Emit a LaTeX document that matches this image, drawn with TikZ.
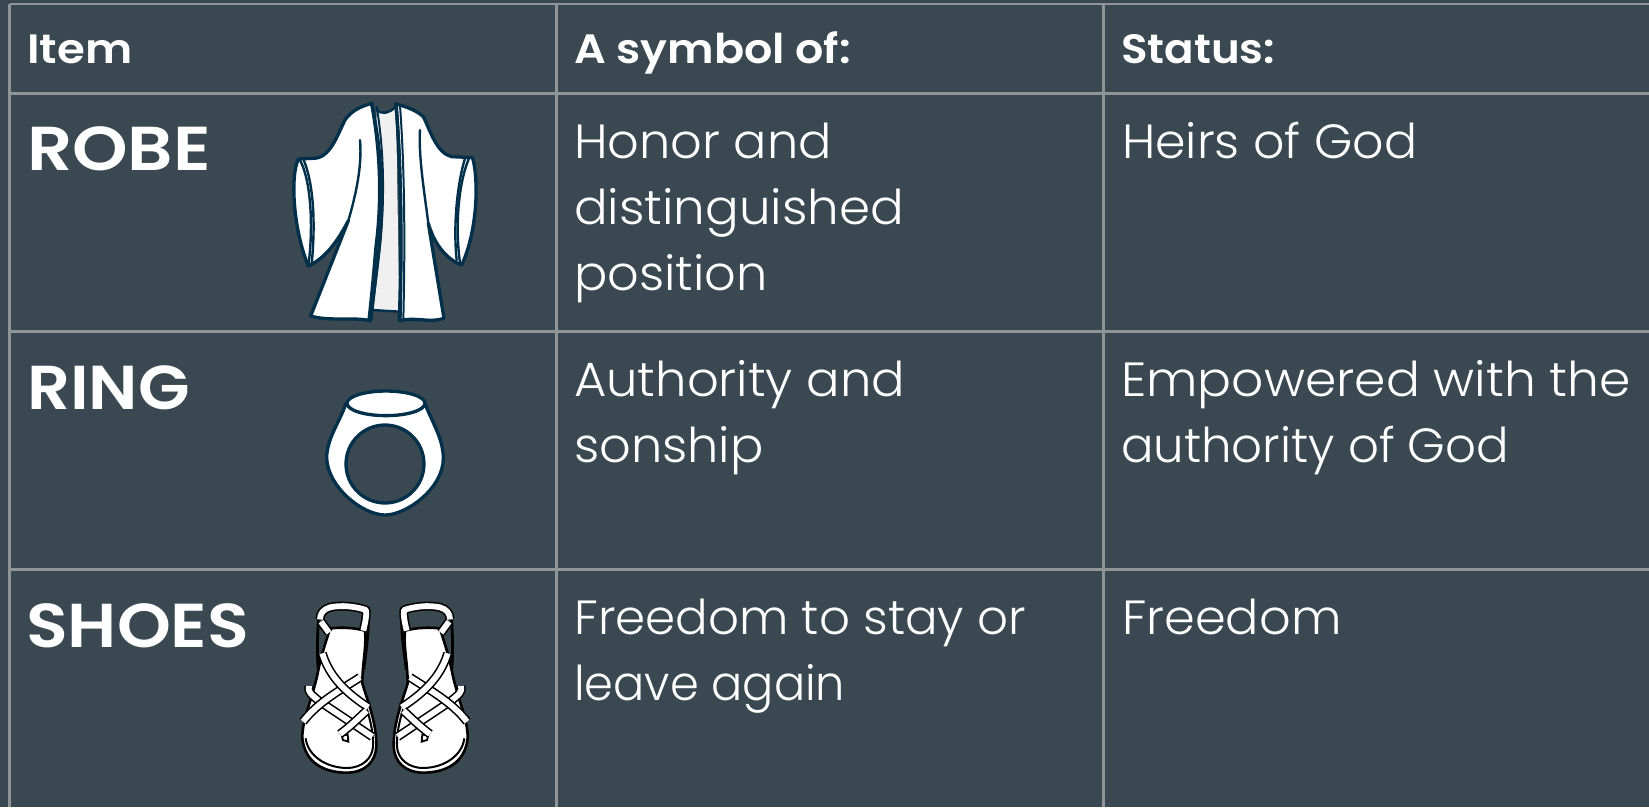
\documentclass[tikz,border=0pt]{standalone}
\usepackage{fontspec}
\setmainfont{Poppins}
\newfontfamily\lightf[FakeStretch=1.04]{Poppins Light}
\newfontfamily\boldf[FakeStretch=1.1]{Poppins SemiBold}
\newfontfamily\heavyf[FakeStretch=1.14]{Poppins SemiBold}
\definecolor{bgc}{HTML}{3A4851}
\definecolor{gridc}{HTML}{8F9497}
\definecolor{navy}{HTML}{02304A}
\definecolor{innerc}{HTML}{F0F0F0}
\tikzset{
 gridline/.style={draw=gridc,line width=2.2pt},
 headtxt/.style={anchor=base west,inner sep=0pt,text=white,font=\boldf\fontsize{41}{41}\selectfont},
 itemtxt/.style={anchor=base west,inner sep=0pt,text=white,font=\heavyf\fontsize{62}{62}\selectfont},
 bodytxt/.style={anchor=base west,inner sep=0pt,text=white,font=\lightf\fontsize{48}{48}\selectfont},
 fit/.style={xscale=#1,transform shape},
 art/.style={draw=navy,line width=3.3pt,line join=round,line cap=round},
 artw/.style={art,fill=white},
 artthin/.style={art,line width=2.4pt},
}
\newcommand{\band}[1]{%
 \draw[black,line width=9pt,line cap=butt,line join=round] #1;
 \draw[white,line width=5.8pt,line cap=butt,line join=round] #1;}
\newcommand{\sandal}{%
 \draw[black,line width=2.6pt,fill=white,line join=round] (135,115) .. controls (165,112) and (205,112) .. (240,122) .. controls (245,170) and (232,220) .. (232,280) .. controls (250,340) and (275,400) .. (274,470) .. controls (272,515) and (240,548) .. (185,548) .. controls (120,548) and (60,520) .. (52,445) .. controls (50,390) and (85,320) .. (100,240) .. controls (110,190) and (125,150) .. (135,115) -- cycle;
 \draw[black,line width=2pt] (62,445) .. controls (68,495) and (120,533) .. (185,534) .. controls (232,534) and (262,505) .. (264,470) .. controls (266,420) and (250,370) .. (240,340);
 \draw[black,line width=2.8pt] (100,240) .. controls (95,190) and (98,130) .. (100,90);
 \draw[black,line width=2.8pt] (236,240) .. controls (245,170) and (252,120) .. (250,70);
 \band{(132,128) -- (108,95)}
 \draw[black,line width=9pt,line join=round] (105,88) .. controls (105,70) and (115,58) .. (135,52) .. controls (170,44) and (215,50) .. (243,60) .. controls (246,75) and (240,100) .. (235,122);
 \draw[white,line width=5.8pt,line join=round] (105,88) .. controls (105,70) and (115,58) .. (135,52) .. controls (170,44) and (215,50) .. (243,60) .. controls (246,75) and (240,100) .. (235,122);
 \band{(72,288) .. controls (66,305) and (80,315) .. (105,335) -- (262,440)}
 \band{(225,262) .. controls (170,298) and (100,335) .. (54,395)}
 \band{(112,190) .. controls (130,250) and (170,300) .. (250,352)}
 \draw[black,line width=1.8pt,fill=white] (170,436) -- (188,434) -- (190,455) -- (174,450) -- cycle;
 \band{(245,362) .. controls (220,385) and (195,410) .. (165,432)}
}
\begin{document}
\begin{tikzpicture}[x=1pt,y=-1pt]
\useasboundingbox (0,0) rectangle (1649,807);
\fill[bgc] (0,0) rectangle (1649,807);
% grid
\coordinate (gl) at (9.5,4);
\coordinate (gm) at (556.5,4);
\coordinate (gr) at (1103.5,4);
\coordinate (ge) at (1649,4);
\coordinate (r1) at (9,93.5);
\coordinate (r1e) at (1649,93.5);
\coordinate (r2) at (9,331.5);
\coordinate (r2e) at (1649,331.5);
\coordinate (r3) at (9,569.5);
\coordinate (r3e) at (1649,569.5);
\coordinate (bl) at (9.5,807);
\coordinate (bm) at (556.5,807);
\coordinate (br) at (1103.5,807);
\draw[gridline] (gl) -- (ge);
\draw[gridline] (r1) -- (r1e);
\draw[gridline] (r2) -- (r2e);
\draw[gridline] (r3) -- (r3e);
\draw[gridline] (gl) -- (bl);
\draw[gridline] (gm) -- (bm);
\draw[gridline] (gr) -- (br);
% text
\node[headtxt] (h1) at (27,63) {Item};
\node[headtxt,fit=0.985] (h2) at (574,63) {A symbol of:};
\node[headtxt,fit=0.966] (h3) at (1121,63) {Status:};
\node[itemtxt] (i1) at (27,170) {ROBE};
\node[itemtxt,fit=0.95] (i2) at (27,409) {RING};
\node[itemtxt,fit=0.97] (i3) at (26,647) {SHOES};
\node[bodytxt,fit=0.99] (a1) at (574,158) {Honor and};
\node[bodytxt] (a2) at (574,224) {distinguished};
\node[bodytxt,fit=0.99] (a3) at (574,290) {position};
\node[bodytxt,fit=0.994] (b1) at (574,396) {Authority and};
\node[bodytxt,fit=0.99] (b2) at (574,462) {sonship};
\node[bodytxt,fit=0.968] (c1) at (574,634) {Freedom to stay or};
\node[bodytxt,fit=0.927] (c2) at (574,700) {leave again};
\node[bodytxt,fit=0.982] (s1) at (1122,158) {Heirs of God};
\node[bodytxt,fit=1.008] (s2) at (1121,396) {Empowered with the};
\node[bodytxt,fit=0.966] (s3) at (1121,462) {authority of God};
\node[bodytxt,fit=0.99] (s4) at (1122,634) {Freedom};
% robe
\begin{scope}[shift={(270,90)},x=0.3333pt,y=-0.3333pt]
\fill[innerc] (320,62) .. controls (335,72) and (355,72) .. (378,50) -- (388,665) -- (305,660) -- cycle;
\draw[artthin] (322,62) .. controls (335,72) and (355,72) .. (378,50);
\draw[artthin] (305,660) -- (388,665);
% left body
\draw[artw] (305,40) .. controls (270,50) and (245,62) .. (225,90) .. controls (200,140) and (180,205) .. (130,205) -- (85,207) .. controls (60,260) and (70,420) .. (115,528) .. controls (155,510) and (195,470) .. (235,392) -- (122,678) .. controls (180,695) and (240,680) .. (302,692) .. controls (315,560) and (345,400) .. (332,240) .. controls (328,160) and (315,90) .. (305,40) -- cycle;
\draw[artthin] (270,150) .. controls (278,240) and (250,340) .. (235,392);
\draw[artthin] (88,207) .. controls (125,270) and (130,420) .. (115,528);
\draw[artthin] (100,207) .. controls (135,290) and (135,420) .. (125,522);
\draw[art,line width=2pt] (320,50) .. controls (340,170) and (345,300) .. (332,450) .. controls (325,520) and (312,610) .. (305,688);
\draw[art] (305,40) .. controls (325,150) and (340,300) .. (318,470) .. controls (312,540) and (305,620) .. (297,690);
% right body
\draw[artw] (378,42) .. controls (410,50) and (440,62) .. (460,80) .. controls (480,120) and (500,190) .. (545,200) -- (608,203) .. controls (628,280) and (620,430) .. (575,525) .. controls (535,510) and (495,470) .. (475,400) -- (522,685) .. controls (480,700) and (440,680) .. (390,692) .. controls (395,500) and (395,250) .. (378,42) -- cycle;
\draw[artthin] (450,120) .. controls (445,200) and (465,320) .. (475,400);
\draw[artthin] (597,205) .. controls (565,280) and (555,410) .. (570,518);
\draw[artthin] (585,205) .. controls (560,290) and (550,410) .. (560,510);
\draw[art] (378,42) .. controls (395,250) and (395,480) .. (388,692);
\draw[art,line width=2pt] (390,46) .. controls (405,250) and (405,480) .. (400,690);
\end{scope}
% ring
\begin{scope}[shift={(300,375)},x=0.3333pt,y=-0.3333pt]
\draw[artw] (138,85) .. controls (120,140) and (80,190) .. (80,250) .. controls (85,340) and (190,420) .. (255,420) .. controls (320,420) and (430,340) .. (430,250) .. controls (430,190) and (395,140) .. (375,85) -- cycle;
\draw[artw] (258,85) ellipse [x radius=39pt,y radius=12.3pt];
\draw[art,fill=bgc] (255,267) circle [radius=39pt];
\end{scope}
% sandals
\begin{scope}[shift={(285,590)},x=0.3333pt,y=-0.3333pt]
\sandal
\end{scope}
\begin{scope}[shift={(485,590)},x=-0.3333pt,y=-0.3333pt]
\sandal
\end{scope}
\end{tikzpicture}
\end{document}
